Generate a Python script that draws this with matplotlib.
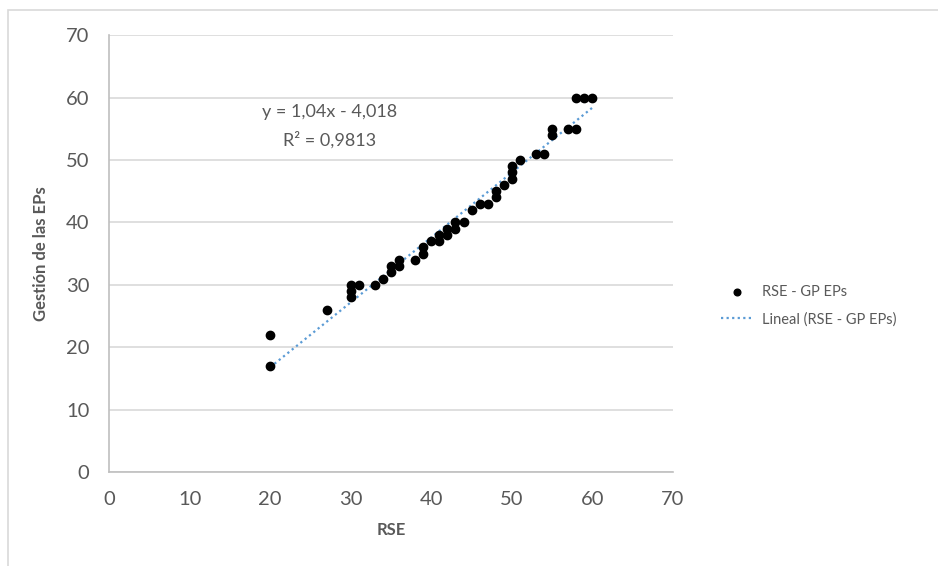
import matplotlib.pyplot as plt
import numpy as np
from matplotlib.patches import Rectangle

# datos
rse = [20, 20, 27, 30, 30, 30, 31, 33, 34, 35, 35, 36, 36, 38, 39, 39, 40, 41, 41,
       42, 42, 43, 43, 44, 45, 46, 47, 48, 48, 49, 50, 50, 50, 51, 53, 54, 55, 55,
       57, 58, 58, 59, 60]
gp_eps = [22, 17, 26, 28, 29, 30, 30, 30, 31, 32, 33, 33, 34, 34, 35, 36, 37, 37, 38,
          38, 39, 39, 40, 40, 42, 43, 43, 44, 45, 46, 47, 48, 49, 50, 51, 51, 54, 55,
          55, 55, 60, 60, 60]
slope, intercept = 1.04, -4.018
r2_text = 'R² = 0,9813'
eq_text = 'y = 1,04x - 4,018'
ticks = [0, 10, 20, 30, 40, 50, 60, 70]

plt.rcParams['font.family'] = ['Lato', 'DejaVu Sans']
gray = '#595959'

fig = plt.figure(figsize=(9.38, 5.66), dpi=100)
fig.patches.append(Rectangle((0.0085, -0.1), 1.2, 1.082, transform=fig.transFigure,
                             fill=False, edgecolor='#d9d9d9', linewidth=1.2))
ax = fig.add_axes([0.1162, 0.166, 0.6013, 0.772])

x_fit = np.array([min(rse), max(rse)])
ax.scatter(rse, gp_eps, s=36, color='black', zorder=3, label='RSE - GP EPs')
ax.plot(x_fit, slope * x_fit + intercept, linestyle=(0, (1, 1.5)), color='#5b9bd5',
        linewidth=1.6, zorder=2, label='Lineal (RSE - GP EPs)')

ax.set_xlim(0, 70)
ax.set_ylim(0, 70)
ax.set_xticks(ticks)
ax.set_yticks(ticks)
ax.grid(axis='y', color='#d9d9d9', linewidth=1.2)
ax.set_axisbelow(True)
for s in ['top', 'right']:
    ax.spines[s].set_visible(False)
for s in ['left', 'bottom']:
    ax.spines[s].set_color('#bfbfbf')
    ax.spines[s].set_linewidth(1.2)
ax.tick_params(axis='y', length=0, labelsize=14.5, labelcolor=gray, pad=14)
ax.tick_params(axis='x', length=0, labelsize=14.5, labelcolor=gray, pad=14)

ax.set_xlabel('RSE', fontsize=12, fontweight='bold', color=gray, labelpad=10)
ax.set_ylabel('Gestión de las EPs', fontsize=12, fontweight='bold', color=gray, labelpad=12)

ax.text(27.4, 57.7, eq_text, ha='center', va='center', fontsize=13, color=gray)
ax.text(27.4, 53.2, r2_text, ha='center', va='center', fontsize=13, color=gray)

fig.legend(loc='upper left', bbox_to_anchor=(0.755, 0.52), frameon=False,
           fontsize=10.5, labelcolor=gray, handlelength=2.2, handletextpad=0.6,
           labelspacing=0.9, markerscale=0.8)

fig.savefig('out.png', dpi=100)
